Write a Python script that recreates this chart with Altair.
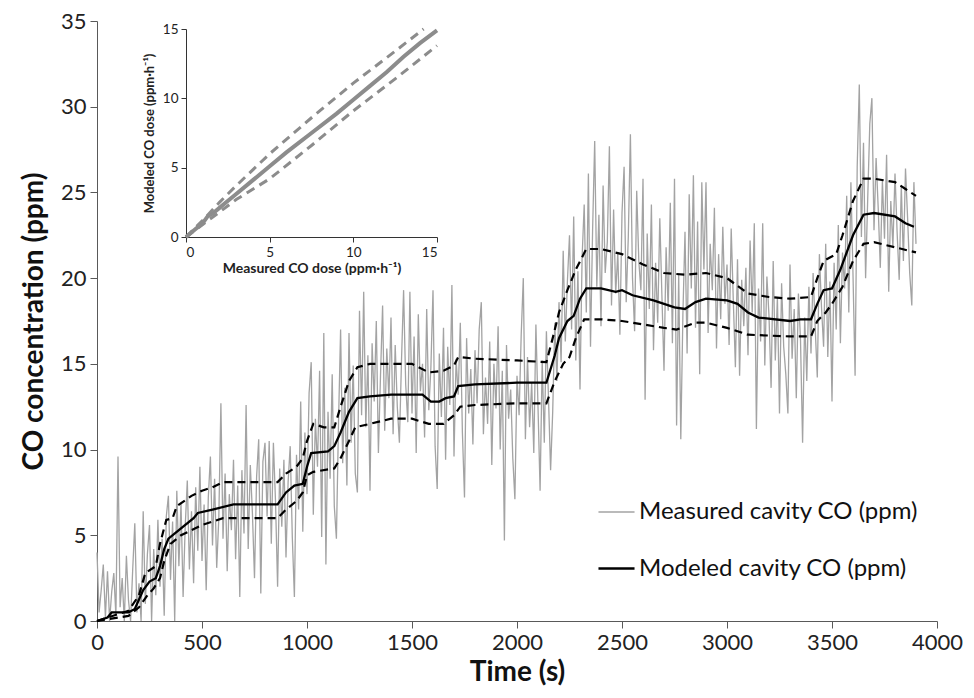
import altair as alt
import pandas as pd

FONT = "Lato"

# ---------------- main chart data ----------------
measured = [
    4.0, 0.5, 1.8, 3.3, 0.2, 2.9, 0.0, 1.7, 2.8, 0.3,
    9.6, 0.8, 2.5, 0.0, 3.8, 1.2, 0.0, 3.0, 5.7, 0.5,
    2.2, 0.0, 6.4, 1.0, 3.9, 5.6, 0.0, 4.2, 1.5, 5.9,
    2.0, 4.8, 0.3, 6.1, 7.3, 2.4, 5.8, 0.0, 7.6, 3.2,
    6.9, 1.4, 5.5, 8.2, 3.0, 6.4, 2.2, 7.8, 4.1, 9.0,
    3.5, 6.8, 1.8, 7.2, 9.6, 4.4, 8.3, 3.1, 6.0, 12.7,
    4.8, 8.6, 2.9, 7.4, 5.3, 9.4, 3.6, 7.9, 1.4, 8.8,
    5.1, 12.6, 4.2, 9.1, 6.3, 2.5, 8.4, 10.6, 1.6, 9.3,
    10.4, 6.1, 10.5, 4.5, 10.4, 7.0, 2.0, 8.9, 5.5, 9.4,
    3.7, 8.1, 10.2, 4.9, 1.4, 9.7, 6.5, 12.8, 5.2, 11.0,
    7.4, 13.3, 15.1, 6.2, 11.8, 9.0, 14.6, 4.9, 16.8, 3.3,
    12.2, 8.3, 14.4, 6.7, 4.8, 11.5, 17.0, 9.2, 13.6, 7.9,
    16.8, 10.4, 14.9, 8.6, 7.5, 18.1, 12.0, 19.2, 11.3, 15.5,
    7.6, 16.2, 12.8, 17.5, 9.8, 14.3, 18.4, 11.1, 15.9, 13.0,
    17.7, 10.9, 16.1, 12.5, 10.4, 15.2, 19.3, 13.8, 11.6, 19.2,
    12.1, 16.6, 9.8, 17.9, 13.4, 15.0, 10.7, 18.2, 12.3, 14.8,
    19.3, 10.2, 7.7, 15.6, 11.9, 17.1, 9.4, 16.0, 12.6, 19.6,
    9.6, 15.3, 13.2, 17.4, 11.0, 7.2, 16.5, 12.1, 14.7, 10.3,
    15.8, 12.7, 17.0, 18.6, 10.9, 14.2, 11.5, 16.3, 9.1, 15.0,
    12.4, 17.2, 10.0, 14.6, 4.7, 16.1, 11.8, 13.5, 9.5, 7.1,
    14.3, 12.0, 16.7, 20.0, 10.6, 15.4, 11.3, 13.9, 9.8, 17.3,
    12.5, 7.6, 15.2, 10.4, 16.9, 13.0, 8.8, 12.2, 17.4, 14.0,
    18.6, 15.1, 21.6, 16.3, 19.8, 22.5, 17.0, 23.6, 15.2, 20.4,
    13.5, 21.2, 24.3, 18.0, 26.1, 16.0, 22.8, 28.0, 19.5, 23.7,
    17.2, 25.4, 20.3, 22.1, 27.7, 18.4, 24.0, 19.1, 21.5, 16.7,
    23.8, 26.5, 18.6, 22.4, 28.4, 20.0, 16.9, 25.1, 21.0, 19.3,
    25.8, 12.9, 22.6, 18.2, 24.3, 15.8, 20.9, 17.4, 23.5, 19.0,
    14.6, 21.8, 18.1, 24.4, 16.2, 25.8, 11.4, 20.2, 10.6, 17.9,
    22.7, 15.6, 24.9, 19.4, 26.0, 17.1, 23.3, 14.4, 25.6, 20.5,
    25.6, 16.8, 22.0, 19.3, 24.1, 15.9, 21.4, 17.6, 23.0, 18.5,
    20.8, 16.1, 22.9, 18.7, 14.8, 21.1, 14.3, 19.9, 17.2, 20.6,
    15.5, 22.2, 18.0, 23.2, 11.2, 19.4, 16.3, 23.2, 14.9, 20.1,
    17.8, 13.6, 21.0, 15.2, 18.9, 12.1, 19.7, 16.0, 14.4, 12.1,
    20.8, 15.3, 18.2, 13.0, 19.1, 16.4, 10.4, 17.7, 14.0, 19.5,
    15.6, 20.3, 17.1, 14.2, 21.4, 18.3, 16.0, 22.0, 15.4, 19.8,
    12.8, 20.9, 17.0, 23.1, 16.2, 21.5, 19.4, 24.8, 18.0, 25.6,
    20.2, 14.3, 26.5, 31.3, 22.4, 27.9, 20.0, 24.6, 29.0, 30.5,
    22.8, 27.0, 24.1, 20.6, 25.7, 22.3, 27.2, 19.2, 24.5, 21.8,
    26.1, 22.7, 19.9, 25.4, 21.0, 26.4, 23.5, 20.3, 18.4, 25.6,
    22.0,
]
t_measured = [i * 10 for i in range(len(measured))]

model_t = [0, 50, 70, 150, 180, 220, 250, 280, 300, 320, 340, 400, 460, 480, 550,
           650, 860, 900, 940, 980, 1000, 1020, 1100, 1130, 1160, 1200, 1240, 1300,
           1400, 1550, 1590, 1630, 1660, 1700, 1720, 1800, 2000, 2140, 2180, 2200,
           2240, 2270, 2300, 2330, 2400, 2470, 2500, 2550, 2650, 2750, 2800, 2850,
           2900, 3000, 3050, 3100, 3150, 3300, 3350, 3400, 3430, 3460, 3500, 3540,
           3600, 3650, 3700, 3800, 3850, 3890]
model_v = [0.0, 0.2, 0.5, 0.5, 0.7, 1.8, 2.3, 2.5, 3.2, 4.2, 4.8, 5.4, 6.0, 6.3, 6.5,
           6.8, 6.8, 7.5, 7.9, 8.0, 9.0, 9.8, 9.9, 10.2, 11.0, 12.2, 13.0, 13.1,
           13.2, 13.2, 12.8, 12.8, 13.0, 13.1, 13.7, 13.8, 13.9, 13.9, 15.5, 16.5,
           17.5, 17.8, 18.8, 19.4, 19.4, 19.2, 19.3, 19.0, 18.7, 18.3, 18.2, 18.6,
           18.8, 18.7, 18.5, 18.0, 17.7, 17.5, 17.6, 17.6, 18.5, 19.3, 19.4, 20.5,
           22.5, 23.7, 23.8, 23.6, 23.2, 23.0]

upper_t = [0, 150, 200, 230, 280, 300, 330, 360, 380, 450, 500, 550, 600, 860, 900,
           950, 980, 1000, 1030, 1080, 1130, 1160, 1200, 1240, 1300, 1500, 1580,
           1650, 1700, 1720, 1800, 2000, 2140, 2170, 2200, 2240, 2280, 2330, 2400,
           2500, 2600, 2700, 2800, 2900, 3000, 3100, 3200, 3300, 3400, 3430, 3460,
           3490, 3520, 3550, 3600, 3650, 3700, 3800, 3850, 3900]
upper_v = [0.0, 0.6, 1.5, 2.8, 3.2, 4.5, 5.9, 6.0, 6.7, 7.3, 7.6, 7.8, 8.1, 8.1, 8.6,
           9.0, 9.5, 10.5, 11.5, 11.3, 11.3, 12.5, 14.0, 14.8, 15.0, 15.0, 14.5,
           14.6, 14.9, 15.4, 15.3, 15.2, 15.1, 16.5, 18.0, 19.3, 20.5, 21.7, 21.7,
           21.4, 20.8, 20.3, 20.2, 20.3, 20.0, 19.1, 18.9, 18.8, 18.9, 20.0, 21.0,
           21.2, 21.4, 22.5, 24.5, 25.8, 25.8, 25.6, 25.2, 24.8]

lower_t = [0, 150, 200, 240, 270, 300, 320, 350, 400, 450, 500, 550, 600, 860, 900,
           950, 980, 1000, 1030, 1130, 1160, 1200, 1230, 1300, 1400, 1500, 1580,
           1650, 1700, 1730, 1800, 2000, 2140, 2180, 2220, 2250, 2280, 2320, 2400,
           2500, 2600, 2700, 2760, 2850, 2900, 3000, 3050, 3100, 3300, 3400, 3430,
           3470, 3500, 3550, 3600, 3650, 3700, 3800, 3900]
lower_v = [0.0, 0.3, 0.8, 1.5, 1.9, 2.5, 3.5, 4.5, 5.0, 5.3, 5.6, 5.8, 6.0, 6.0, 6.5,
           7.0, 7.5, 8.5, 8.7, 8.9, 9.5, 10.5, 11.3, 11.5, 11.8, 11.8, 11.5, 11.5,
           12.0, 12.5, 12.6, 12.7, 12.7, 14.0, 15.0, 15.4, 16.5, 17.6, 17.6, 17.5,
           17.3, 17.1, 17.0, 17.4, 17.4, 17.1, 16.9, 16.7, 16.6, 16.6, 17.5, 18.0,
           18.5, 19.5, 21.0, 22.0, 22.1, 21.8, 21.5]

x_ticks = [0, 500, 1000, 1500, 2000, 2500, 3000, 3500, 4000]
y_ticks = [0, 5, 10, 15, 20, 25, 30, 35]

series_names = ["Measured cavity CO (ppm)", "Modeled cavity CO (ppm)"]

# ---------------- inset data ----------------
inset_solid_x = [0, 0.5, 1.0, 1.3, 1.6, 2.0, 2.4, 3.0, 4.0, 5.0, 6.0, 7.5, 9.0, 10.0,
                 11.0, 12.0, 13.0, 14.0, 15.0]
inset_solid_y = [0, 0.5, 1.0, 1.5, 1.7, 2.1, 2.5, 3.1, 4.1, 5.1, 6.1, 7.5, 8.9, 9.9,
                 10.9, 11.9, 13.0, 14.0, 14.9]
inset_upper_x = [0, 1.0, 2.0, 3.0, 5.0, 7.5, 10.0, 12.5, 14.2]
inset_upper_y = [0, 1.2, 2.5, 3.7, 6.0, 8.6, 11.1, 13.4, 15.0]
inset_lower_x = [0, 1.0, 2.0, 3.0, 5.0, 7.5, 10.0, 12.5, 15.0]
inset_lower_y = [0, 0.9, 1.8, 2.7, 4.2, 6.6, 9.1, 11.4, 13.8]
inset_ticks = [0, 5, 10, 15]

# ---------------- frames ----------------
df_main = pd.DataFrame({
    "t": t_measured + model_t,
    "v": measured + model_v,
    "series": [series_names[0]] * len(measured) + [series_names[1]] * len(model_t),
})
df_bounds = pd.DataFrame({
    "t": upper_t + lower_t,
    "v": upper_v + lower_v,
    "bound": ["upper"] * len(upper_t) + ["lower"] * len(lower_t),
})
df_inset_solid = pd.DataFrame({"x": inset_solid_x, "y": inset_solid_y})
df_inset_dash = pd.DataFrame({
    "x": inset_upper_x + inset_lower_x,
    "y": inset_upper_y + inset_lower_y,
    "bound": ["upper"] * len(inset_upper_x) + ["lower"] * len(inset_lower_x),
})

AX = "#595959"
W, H = 840, 600

x_enc = alt.X("t:Q", scale=alt.Scale(domain=[0, 4000], nice=False, zero=False),
              axis=alt.Axis(values=x_ticks, title="Time (s)", grid=False, format="d",
                            labelFontSize=22, titleFontSize=28, titleFontWeight="bold",
                            labelFont=FONT, titleFont=FONT, labelColor="#222",
                            titleColor="#111", domainColor=AX, tickColor=AX,
                            tickSize=7, labelPadding=4, titlePadding=5,
                            labelFlush=False))
y_enc = alt.Y("v:Q", scale=alt.Scale(domain=[0, 35], nice=False),
              axis=alt.Axis(values=y_ticks, title="CO concentration (ppm)", grid=False,
                            labelFontSize=22, titleFontSize=28, titleFontWeight="bold",
                            labelFont=FONT, titleFont=FONT, labelColor="#222",
                            titleColor="#111", domainColor=AX, tickColor=AX,
                            tickSize=7, labelPadding=4, titlePadding=12))

legend = alt.Legend(title=None, orient="none", legendX=500, legendY=472,
                    labelFontSize=24, labelFont=FONT, labelColor="#111",
                    labelLimit=0, symbolType="stroke", symbolSize=1300,
                    rowPadding=25, labelOffset=3)

main_lines = alt.Chart(df_main).mark_line().encode(
    x=x_enc, y=y_enc,
    color=alt.Color("series:N", scale=alt.Scale(domain=series_names,
                                                 range=["#a3a3a3", "#000000"]),
                    legend=legend),
    strokeWidth=alt.StrokeWidth("series:N", scale=alt.Scale(domain=series_names,
                                                            range=[1.3, 2.3]),
                                legend=legend),
)

bounds = alt.Chart(df_bounds).mark_line(color="black", strokeWidth=2.2,
                                        strokeDash=[8, 5]).encode(
    x=x_enc, y=y_enc, detail="bound:N")

main = alt.layer(main_lines, bounds)

# inset placed by giving its scales pixel ranges inside the plot area
IN_L, IN_R, IN_B, IN_T = 89, 340, 216, 8
ix = alt.X("x:Q", scale=alt.Scale(domain=[0, 15], range=[IN_L, IN_R], nice=False),
           axis=alt.Axis(orient="bottom", offset=IN_B - H, values=inset_ticks,
                         title="Measured CO dose (ppm·h⁻¹)", grid=False,
                         labelFontSize=13.5, titleFontSize=14, titleFontWeight="bold",
                         labelFont=FONT, titleFont=FONT, labelColor="#222",
                         titleColor="#222", domainColor="#333", tickColor="#333",
                         tickSize=5, labelPadding=3, titlePadding=3))
iy = alt.Y("y:Q", scale=alt.Scale(domain=[0, 15], range=[IN_B, IN_T], nice=False),
           axis=alt.Axis(orient="left", offset=-IN_L, values=inset_ticks,
                         title="Modeled CO dose (ppm·h⁻¹)", grid=False,
                         labelFontSize=13.5, titleFontSize=13, titleFontWeight="bold",
                         labelFont=FONT, titleFont=FONT, labelColor="#222",
                         titleColor="#222", domainColor="#333", tickColor="#333",
                         tickSize=5, labelPadding=3, titlePadding=6))

inset_solid = alt.Chart(df_inset_solid).mark_line(color="#8c8c8c", strokeWidth=4).encode(
    x=ix, y=iy)
inset_dash = alt.Chart(df_inset_dash).mark_line(color="#8c8c8c", strokeWidth=3,
                                                strokeDash=[9, 6]).encode(
    x=ix, y=iy, detail="bound:N")
inset = alt.layer(inset_solid, inset_dash)

chart = alt.layer(main, inset).resolve_scale(
    x="independent", y="independent"
).properties(
    width=W, height=H,
    autosize=alt.AutoSizeParams(type="none"),
    padding={"left": 89, "top": 13, "right": 29, "bottom": 75},
    background="white",
).configure_view(stroke=None)

chart.save("out.html", embed_options={"renderer": "svg", "actions": False})
